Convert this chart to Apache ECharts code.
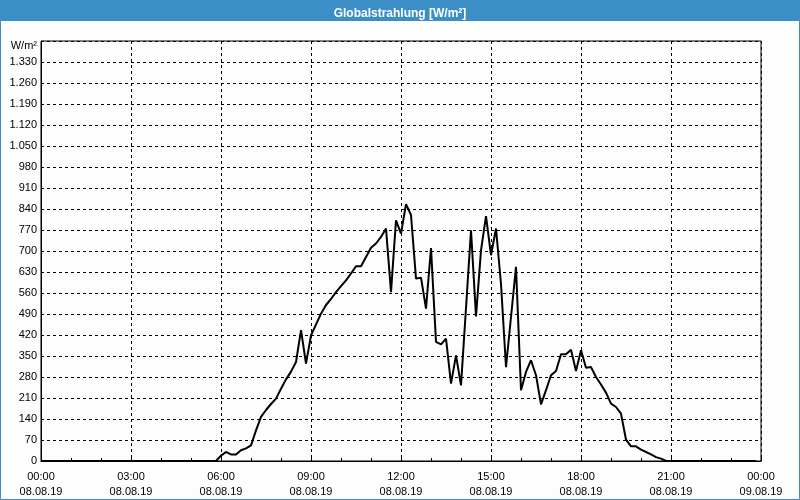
<!DOCTYPE html>
<html><head><meta charset="utf-8">
<script src="https://cdn.jsdelivr.net/npm/echarts@6/dist/echarts.min.js"></script>
<style>html,body{margin:0;padding:0;background:#fcfdfc}#c{width:800px;height:500px}</style>
</head><body><div id="c"></div>
<script>
const chartTitle = 'Globalstrahlung [W/m²]';
const unitLabel = 'W/m²';
const dateLabels = ['08.08.19','08.08.19','08.08.19','08.08.19','08.08.19','08.08.19','08.08.19','08.08.19','09.08.19'];
const times = ['00:00','05:50','06:00','06:10','06:20','06:30','06:40','06:50','07:00','07:10','07:20','07:30','07:40','07:50',
 '08:00','08:10','08:20','08:30','08:40','08:50','09:00','09:10','09:20','09:30','09:40','09:50',
 '10:00','10:10','10:20','10:30','10:40','10:50','11:00','11:10','11:20','11:30','11:40','11:50',
 '12:00','12:10','12:20','12:30','12:40','12:50','13:00','13:10','13:20','13:30','13:40','13:50',
 '14:00','14:10','14:20','14:30','14:40','14:50','15:00','15:10','15:20','15:30','15:40','15:50',
 '16:00','16:10','16:20','16:30','16:40','16:50','17:00','17:10','17:20','17:30','17:40','17:50',
 '18:00','18:10','18:20','18:30','18:40','18:50','19:00','19:10','19:20','19:30','19:40','19:50',
 '20:00','20:10','20:20','20:30','20:40','20:50','23:50'];
const values = [0,0,18,30,22,22,36,42,52,102,147,170,190,208,
 241,272,298,330,436,325,419,455,491,520,540,563,
 583,602,625,649,649,680,711,725,747,775,563,802,
 758,856,820,608,611,508,710,397,389,408,258,352,
 252,510,769,482,702,816,686,775,590,313,480,647,
 236,297,336,286,189,236,286,300,356,356,371,300,
 369,311,313,280,255,228,191,180,158,71,49,49,
 38,30,22,13,8,0,0];

function toMin(t){const p=t.split(':');return (+p[0])*60+(+p[1]);}
const seriesData = times.map((t,i)=>[toMin(t), values[i]]);
function fmtThousands(v){const s=String(v);return s.length>3? s.slice(0,s.length-3)+'.'+s.slice(-3):s;}

const chart = echarts.init(document.getElementById('c'), null, {renderer:'canvas'});
const font = 'Liberation Sans';
chart.setOption({
  animation:false,
  backgroundColor:'#fcfdfc',
  title:{text:chartTitle,left:'center',top:3,textStyle:{color:'#ffffff',fontFamily:font,fontSize:12,fontWeight:'bold'}},
  graphic:[
    {type:'rect',z:-1,shape:{x:0,y:0,width:800,height:21},style:{fill:'#3c8fc6'},silent:true},
    {type:'rect',z:-1,shape:{x:0.5,y:0.5,width:799,height:499},style:{fill:null,stroke:'#3c8fc6',lineWidth:1},silent:true}
  ],
  grid:{left:41,right:39,top:41,bottom:39,show:true,borderColor:'#000',borderWidth:1,backgroundColor:'transparent'},
  xAxis:{type:'value',min:0,max:1440,interval:180,
    axisLine:{show:true,lineStyle:{color:'#000',width:1}},
    axisTick:{show:true,inside:true,length:3,lineStyle:{color:'#000'}},
    minorTick:{show:true,splitNumber:3,length:3,lineStyle:{color:'#000'}},
    splitLine:{show:true,lineStyle:{color:'#000',type:[3,3],width:1}},
    axisLabel:{color:'#000',fontFamily:font,fontSize:11,margin:8,lineHeight:15,
      formatter:function(v){const i=Math.round(v/180);const h=(v/60)%24;return (h<10?'0':'')+h+':00\n'+dateLabels[i];}}
  },
  yAxis:{type:'value',min:0,max:1400,interval:70,
    axisLine:{show:true,lineStyle:{color:'#000',width:1}},
    axisTick:{show:false},
    splitLine:{show:true,lineStyle:{color:'#000',type:[3,3],width:1}},
    axisLabel:{color:'#000',fontFamily:font,fontSize:11,margin:4,
      formatter:function(v){return v===1400?'{u|'+unitLabel+'}':fmtThousands(v);},
      rich:{u:{color:'#000',fontFamily:font,fontSize:11,padding:[9,0,0,0]}}}
  },
  series:[{type:'line',data:seriesData,showSymbol:false,symbol:'none',lineStyle:{color:'#000',width:2},itemStyle:{color:'#000'}}]
});
</script></body></html>
